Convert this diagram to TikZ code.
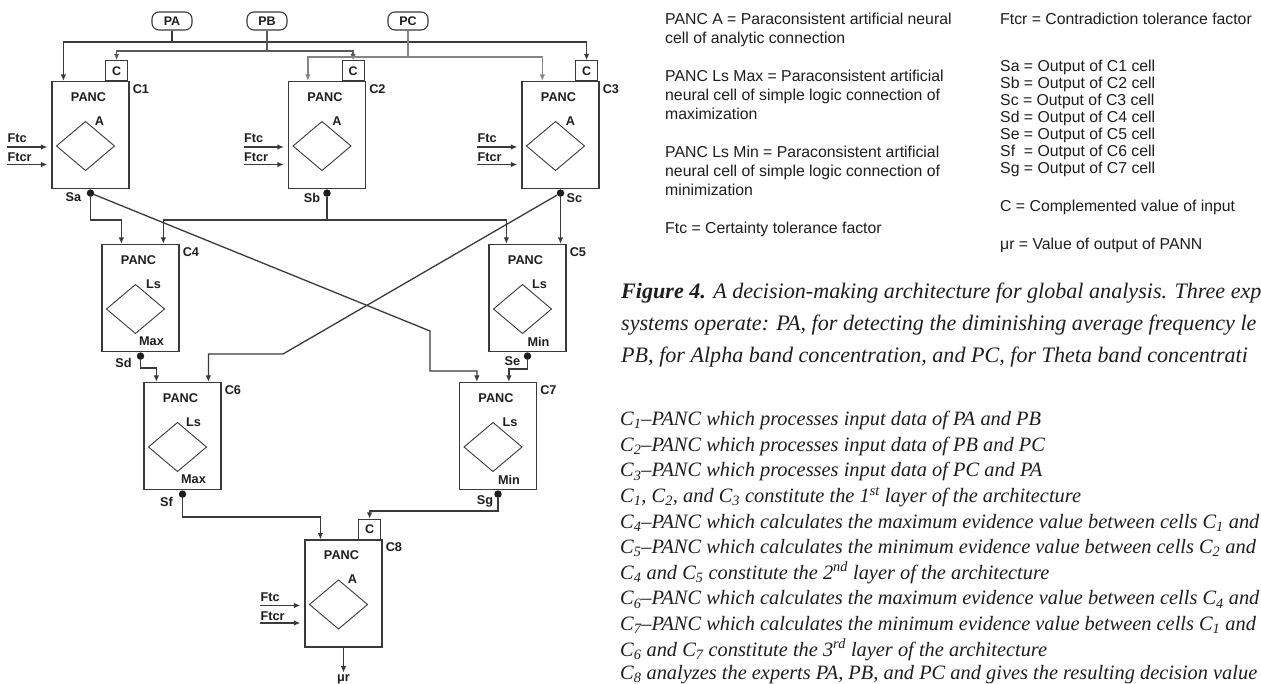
\documentclass[tikz,border=0pt]{standalone}
\usepackage{fontspec}
\setmainfont{Liberation Sans}
\newfontfamily\serifcap{Liberation Serif}
\usetikzlibrary{arrows.meta,calc}
\definecolor{linec}{HTML}{3A3A3A}
\definecolor{lineb}{HTML}{5A5A5A}
\definecolor{linep}{HTML}{858585}
\definecolor{txtc}{HTML}{1E1E1E}
\tikzset{
  wire/.style={draw=linec, line width=1.3pt},
  arr/.style={-{Latex[length=6.5pt,width=5.5pt]}},
  cellbox/.style={draw=linec, line width=1.2pt, minimum width=77pt, minimum height=107pt, inner sep=0pt},
  cbox/.style={draw=linec, line width=1.2pt, minimum width=22pt, minimum height=20pt, inner sep=0pt, font=\bfseries\fontsize{12.5}{14}\selectfont, text=txtc},
  inbox/.style={draw=linec, line width=1.1pt, rounded corners=7pt, minimum width=40pt, minimum height=18pt, inner sep=0pt, font=\bfseries\fontsize{12.5}{14}\selectfont, text=txtc},
  celltxt/.style={font=\bfseries\fontsize{12.7}{14}\selectfont, text=txtc, inner sep=0pt},
  dia/.style={draw=linec, line width=0.9pt},
  dot/.style={circle, fill=txtc, inner sep=0pt, minimum size=7.5pt},
  legend/.style={font=\fontsize{15.8}{19}\selectfont, text=txtc, inner sep=0pt, anchor=west, text height=11.5pt, text depth=3pt},
  captxt/.style={font=\serifcap\itshape\fontsize{22.1}{28}\selectfont, text=txtc, inner sep=0pt, anchor=west, text height=16pt, text depth=5pt},
  listtxt/.style={font=\serifcap\itshape\fontsize{20.4}{24}\selectfont, text=txtc, inner sep=0pt, anchor=west, text height=14pt, text depth=4.5pt},
}
\newcommand\panccell[6]{%
  \node[cellbox] (#1) at (#2) {};
  \node[celltxt] (#1-panc) at ($(#1.north)+(-2,16)$) {PANC};
  \coordinate (#1-d) at ($(#1.center)+(-5,11)$);
  \draw[dia] ($(#1-d)+(-29,0)$) -- ($(#1-d)+(0,-24.5)$) -- ($(#1-d)+(29,0)$) -- ($(#1-d)+(0,24.5)$) -- cycle;
  \node[celltxt] (#1-up) at ($(#1-d)+(#6,-25)$) {#3};
  \node[celltxt] (#1-lo) at ($(#1.south)+(11,-10.5)$) {#4};
  \node[celltxt,anchor=west] (#1-name) at ($(#1.north east)+(3,8)$) {#5};
}
\newcommand\ftcpair[1]{%
  \coordinate (#1-f1) at ($(#1.west)+(-44,12)$);
  \coordinate (#1-f2) at ($(#1.west)+(-44,29.5)$);
  \draw[wire,arr,shorten >=4pt] (#1-f1) -- (#1-f1 -| #1.west);
  \draw[wire,arr,shorten >=4pt] (#1-f2) -- (#1-f2 -| #1.west);
  \node[celltxt,anchor=base west] (#1-ftc) at ($(#1-f1)+(0,-4)$) {Ftc};
  \node[celltxt,anchor=base west] (#1-ftcr) at ($(#1-f2)+(0,-2.5)$) {Ftcr};
}
\newcommand\compbox[1]{\node[cbox] (#1-c) at ($(#1.north east)+(-13,-10)$) {C};}
\newcommand\outdot[1]{\node[dot] (#1-o) at ($(#1.south)+(0,4)$) {};}
\begin{document}
\begin{tikzpicture}[x=1pt,y=-1pt]
\useasboundingbox (0,0) rectangle (1261,684);
\fill[white] (0,0) rectangle (1261,684);
\clip (0,0) rectangle (1261,684);

% expert inputs
\node[inbox] (pa) at (172,21) {PA};
\node[inbox] (pb) at (267,21) {PB};
\node[inbox] (pc) at (408,21) {PC};

% cells
\panccell{c1}{90.5,135}{A}{}{C1}{14}
\panccell{c2}{327,135}{A}{}{C2}{15}
\panccell{c3}{560.5,135}{A}{}{C3}{15}
\panccell{c4}{140.5,298}{Ls}{Max}{C4}{18}
\panccell{c5}{527.5,298}{Ls}{Min}{C5}{17}
\panccell{c6}{182.5,436}{Ls}{Max}{C6}{16}
\panccell{c7}{498,436}{Ls}{Min}{C7}{17}
\panccell{c8}{343.5,593.5}{A}{}{C8}{14}
\compbox{c1}\compbox{c2}\compbox{c3}\compbox{c8}
\ftcpair{c1}\ftcpair{c2}\ftcpair{c3}\ftcpair{c8}
\outdot{c1}\outdot{c2}\outdot{c3}\outdot{c4}\outdot{c5}\outdot{c6}\outdot{c7}

% output labels
\node[celltxt] (sa) at ($(c1-o)+(-17,4.5)$) {Sa};
\node[celltxt] (sb) at ($(c2-o)+(-15,5)$) {Sb};
\node[celltxt] (sc) at ($(c3-o)+(14,5)$) {Sc};
\node[celltxt] (sd) at ($(c4-o)+(-17,7)$) {Sd};
\node[celltxt] (se) at ($(c5-o)+(-15,5.5)$) {Se};
\node[celltxt] (sf) at ($(c6-o)+(-16,7.5)$) {Sf};
\node[celltxt] (sg) at ($(c7-o)+(-13,7.5)$) {Sg};

% input points
\coordinate (c1-i1) at ($(c1.north west)+(12,0)$);
\coordinate (c2-i1) at ($(c2.north west)+(20,0)$);
\coordinate (c3-i1) at ($(c3.north west)+(21,0)$);
\coordinate (c4-i1) at ($(c4.north west)+(20,0)$);
\coordinate (c4-i2) at ($(c4.north west)+(62,0)$);
\coordinate (c5-i1) at ($(c5.north west)+(18,0)$);
\coordinate (c5-i2) at (c3-o |- c5.north);
\coordinate (c6-i1) at ($(c6.north west)+(13,0)$);
\coordinate (c6-i2) at ($(c6.north west)+(65,0)$);
\coordinate (c7-i1) at ($(c7.north west)+(18,0)$);
\coordinate (c7-i2) at ($(c7.north west)+(50,0)$);
\coordinate (c8-i1) at ($(c8.north west)+(16,0)$);
% bus levels and bends
\coordinate (yA) at (0,42);
\coordinate (yB) at (0,51);
\coordinate (yC) at (0,57);
\coordinate (y220) at (0,220);
\coordinate (y368) at (0,368);
\coordinate (y369) at (0,369);
\coordinate (y371) at (0,371);
\coordinate (y511) at (0,511);
\coordinate (y517) at (0,517);
\coordinate (k1) at (430,331);
\coordinate (k2) at (283,354);
\coordinate (c8-out) at ($(c8.south)+(0,25)$);

% top buses
\draw[wire,arr] (pa.south) |- (c1-i1 |- yA) -- (c1-i1);
\draw[wire,arr] (pa.south) |- (c3-c.north |- yA) -- (c3-c.north);
\draw[wire,draw=lineb,arr] (pb.south) |- (c1-c.north |- yB) -- (c1-c.north);
\draw[wire,draw=lineb,arr] (pb.south) |- (c2-c.north |- yB) -- (c2-c.north);
\draw[wire,draw=linep,arr] (pc.south) |- (c2-i1 |- yC) -- (c2-i1);
\draw[wire,draw=linep,arr] (pc.south) |- (c3-i1 |- yC) -- (c3-i1);

% layer connections
\draw[wire,arr] (c1-o) |- (c4-i1 |- y220) -- (c4-i1);
\draw[wire,arr] (c1-o) -- (k1) |- (c7-i1 |- y371) -- (c7-i1);
\draw[wire,arr] (c2-o) |- (c4-i2 |- y220) -- (c4-i2);
\draw[wire,arr] (c2-o) |- (c5-i1 |- y220) -- (c5-i1);
\draw[wire,arr] (c3-o) -- (c5-i2);
\draw[wire,arr] (c3-o) -- (k2) -| (c6-i2);
\draw[wire,arr] (c4-o) |- (c6-i1 |- y368) -- (c6-i1);
\draw[wire,arr] (c5-o) |- (c7-i2 |- y369) -- (c7-i2);
\draw[wire,arr] (c6-o) |- (c8-i1 |- y517) -- (c8-i1);
\draw[wire,arr] (c7-o) |- (c8-c.north |- y511) -- (c8-c.north);
\draw[wire,arr] (c8.south) -- (c8-out);
\node[celltxt] (mur) at ($(c8.south)+(0,32)$) {μr};

% legend
\node[legend] (l1) at (665,20) {PANC A = Paraconsistent artificial neural};
\node[legend] (l2) at (665,39) {cell of analytic connection};
\node[legend] (l3) at (665,77) {PANC Ls Max = Paraconsistent artificial};
\node[legend] (l4) at (665,96) {neural cell of simple logic connection of};
\node[legend] (l5) at (665,115) {maximization};
\node[legend] (l6) at (665,153) {PANC Ls Min = Paraconsistent artificial};
\node[legend] (l7) at (665,172) {neural cell of simple logic connection of};
\node[legend] (l8) at (665,191) {minimization};
\node[legend] (l9) at (665,229) {Ftc = Certainty tolerance factor};
\node[legend] (r1) at (1000,20) {Ftcr = Contradiction tolerance factor};
\node[legend] (r2) at (1000,67) {Sa = Output of C1 cell};
\node[legend] (r3) at (1000,84) {Sb = Output of C2 cell};
\node[legend] (r4) at (1000,101) {Sc = Output of C3 cell};
\node[legend] (r5) at (1000,118.5) {Sd = Output of C4 cell};
\node[legend] (r6) at (1000,135.5) {Se = Output of C5 cell};
\node[legend] (r7) at (1000,152.5) {Sf\ \ = Output of C6 cell};
\node[legend] (r8) at (1000,169.5) {Sg = Output of C7 cell};
\node[legend] (r9) at (1000,207.5) {C = Complemented value of input};
\node[legend] (r10) at (1000,245) {μr = Value of output of PANN};

% caption (cut at the right edge as in the source)
\node[captxt] (cap1) at (621,293) {\textbf{Figure 4.} A decision-making architecture for global analysis. Three exp};
\node[captxt] (cap2) at (621,325) {systems operate: PA, for detecting the diminishing average frequency le};
\node[captxt] (cap3) at (621,357) {PB, for Alpha band concentration, and PC, for Theta band concentrati};

\node[listtxt] (t1) at (620,421) {C\textsubscript{1}–PANC which processes input data of PA and PB};
\node[listtxt] (t2) at (620,446.6) {C\textsubscript{2}–PANC which processes input data of PB and PC};
\node[listtxt] (t3) at (620,472.2) {C\textsubscript{3}–PANC which processes input data of PC and PA};
\node[listtxt] (t4) at (620,497.8) {C\textsubscript{1}, C\textsubscript{2}, and C\textsubscript{3} constitute the 1\textsuperscript{st} layer of the architecture};
\node[listtxt] (t5) at (620,523.4) {C\textsubscript{4}–PANC which calculates the maximum evidence value between cells C\textsubscript{1} and};
\node[listtxt] (t6) at (620,549) {C\textsubscript{5}–PANC which calculates the minimum evidence value between cells C\textsubscript{2} and};
\node[listtxt] (t7) at (620,574.6) {C\textsubscript{4} and C\textsubscript{5} constitute the 2\textsuperscript{nd} layer of the architecture};
\node[listtxt] (t8) at (620,600.2) {C\textsubscript{6}–PANC which calculates the maximum evidence value between cells C\textsubscript{4} and};
\node[listtxt] (t9) at (620,625.8) {C\textsubscript{7}–PANC which calculates the minimum evidence value between cells C\textsubscript{1} and};
\node[listtxt] (t10) at (620,651.4) {C\textsubscript{6} and C\textsubscript{7} constitute the 3\textsuperscript{rd} layer of the architecture};
\node[listtxt] (t11) at (620,675) {C\textsubscript{8} analyzes the experts PA, PB, and PC and gives the resulting decision value};
\end{tikzpicture}
\end{document}
